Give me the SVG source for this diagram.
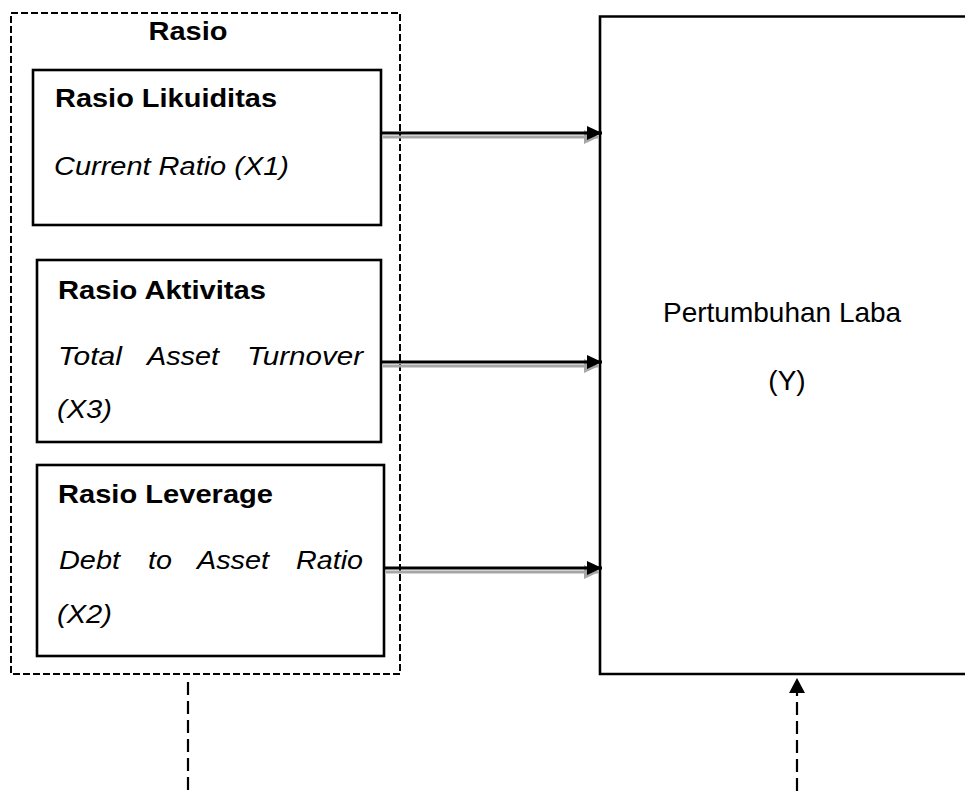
<svg xmlns="http://www.w3.org/2000/svg" width="965" height="791" viewBox="0 0 965 791">
<style>
.box{fill:none;stroke:#000;stroke-width:2.6}
.dash{fill:none;stroke:#000;stroke-width:2;stroke-dasharray:7,3}
.ldash{fill:none;stroke:#000;stroke-width:2.2;stroke-dasharray:13,6}
.b{font-family:"Liberation Sans",Arial,sans-serif;font-weight:bold;font-size:26px;fill:#000}
.i{font-family:"Liberation Sans",Arial,sans-serif;font-style:italic;font-size:26px;fill:#000}
.r{font-family:"Liberation Sans",Arial,sans-serif;font-size:28px;fill:#000}
.line{stroke:#000;stroke-width:3}
.shadow{stroke:#a6a6a6;stroke-width:3}
</style>
<defs>
<marker id="ah" markerWidth="15" markerHeight="14" refX="15" refY="7" orient="auto" markerUnits="userSpaceOnUse">
<path d="M0,0 L15,7 L0,14 Z" fill="#000"/>
</marker>
<marker id="ahs" markerWidth="15" markerHeight="14" refX="15" refY="7" orient="auto" markerUnits="userSpaceOnUse">
<path d="M0,0 L15,7 L0,14 Z" fill="#a6a6a6"/>
</marker>
<marker id="ahu" markerWidth="15" markerHeight="16" refX="15" refY="8" orient="auto" markerUnits="userSpaceOnUse">
<path d="M0,0 L15,8 L0,16 Z" fill="#000"/>
</marker>
</defs>
<g id="rasio">
<rect class="dash" x="11" y="13" width="389" height="661"/>
<text class="b" x="188" y="40" text-anchor="middle" textLength="79" lengthAdjust="spacingAndGlyphs">Rasio</text>
</g>
<g id="likuiditas">
<rect class="box" x="33" y="70" width="348" height="155"/>
<text class="b" x="55" y="107" textLength="222" lengthAdjust="spacingAndGlyphs">Rasio Likuiditas</text>
<text class="i" x="54" y="175" textLength="235" lengthAdjust="spacingAndGlyphs">Current Ratio (X1)</text>
</g>
<g id="aktivitas">
<rect class="box" x="37" y="260" width="344" height="182"/>
<text class="b" x="58" y="299" textLength="208" lengthAdjust="spacingAndGlyphs">Rasio Aktivitas</text>
<text class="i" x="58" y="365" textLength="64" lengthAdjust="spacingAndGlyphs">Total</text>
<text class="i" x="147" y="365" textLength="72" lengthAdjust="spacingAndGlyphs">Asset</text>
<text class="i" x="247" y="365" textLength="116" lengthAdjust="spacingAndGlyphs">Turnover</text>
<text class="i" x="57" y="418" textLength="55" lengthAdjust="spacingAndGlyphs">(X3)</text>
</g>
<g id="leverage">
<rect class="box" x="37" y="465" width="347" height="191"/>
<text class="b" x="58" y="503" textLength="215" lengthAdjust="spacingAndGlyphs">Rasio Leverage</text>
<text class="i" x="59" y="569" textLength="61" lengthAdjust="spacingAndGlyphs">Debt</text>
<text class="i" x="148" y="569" textLength="24" lengthAdjust="spacingAndGlyphs">to</text>
<text class="i" x="197" y="569" textLength="72" lengthAdjust="spacingAndGlyphs">Asset</text>
<text class="i" x="296" y="569" textLength="67" lengthAdjust="spacingAndGlyphs">Ratio</text>
<text class="i" x="57" y="623" textLength="55" lengthAdjust="spacingAndGlyphs">(X2)</text>
</g>
<g id="pertumbuhan">
<path class="box" d="M967,16.5 H600 V674 H967"/>
<text class="r" x="663" y="322">Pertumbuhan Laba</text>
<text class="r" x="787" y="390" text-anchor="middle">(Y)</text>
</g>
<g id="connectors">
<line class="shadow" x1="383" y1="137" x2="599" y2="137" marker-end="url(#ahs)"/>
<line class="line" x1="381" y1="133" x2="602" y2="133" marker-end="url(#ah)"/>
<line class="shadow" x1="383" y1="366" x2="599" y2="366" marker-end="url(#ahs)"/>
<line class="line" x1="381" y1="362" x2="602" y2="362" marker-end="url(#ah)"/>
<line class="shadow" x1="386" y1="572" x2="599" y2="572" marker-end="url(#ahs)"/>
<line class="line" x1="384" y1="568" x2="602" y2="568" marker-end="url(#ah)"/>
<line class="ldash" x1="188" y1="682" x2="188" y2="791"/>
<line class="ldash" x1="797" y1="791" x2="797" y2="678" stroke-dasharray="0,6,13,6,13,6,13,6,13,6,13,6,13,8,30" marker-end="url(#ahu)"/>
</g>
</svg>
